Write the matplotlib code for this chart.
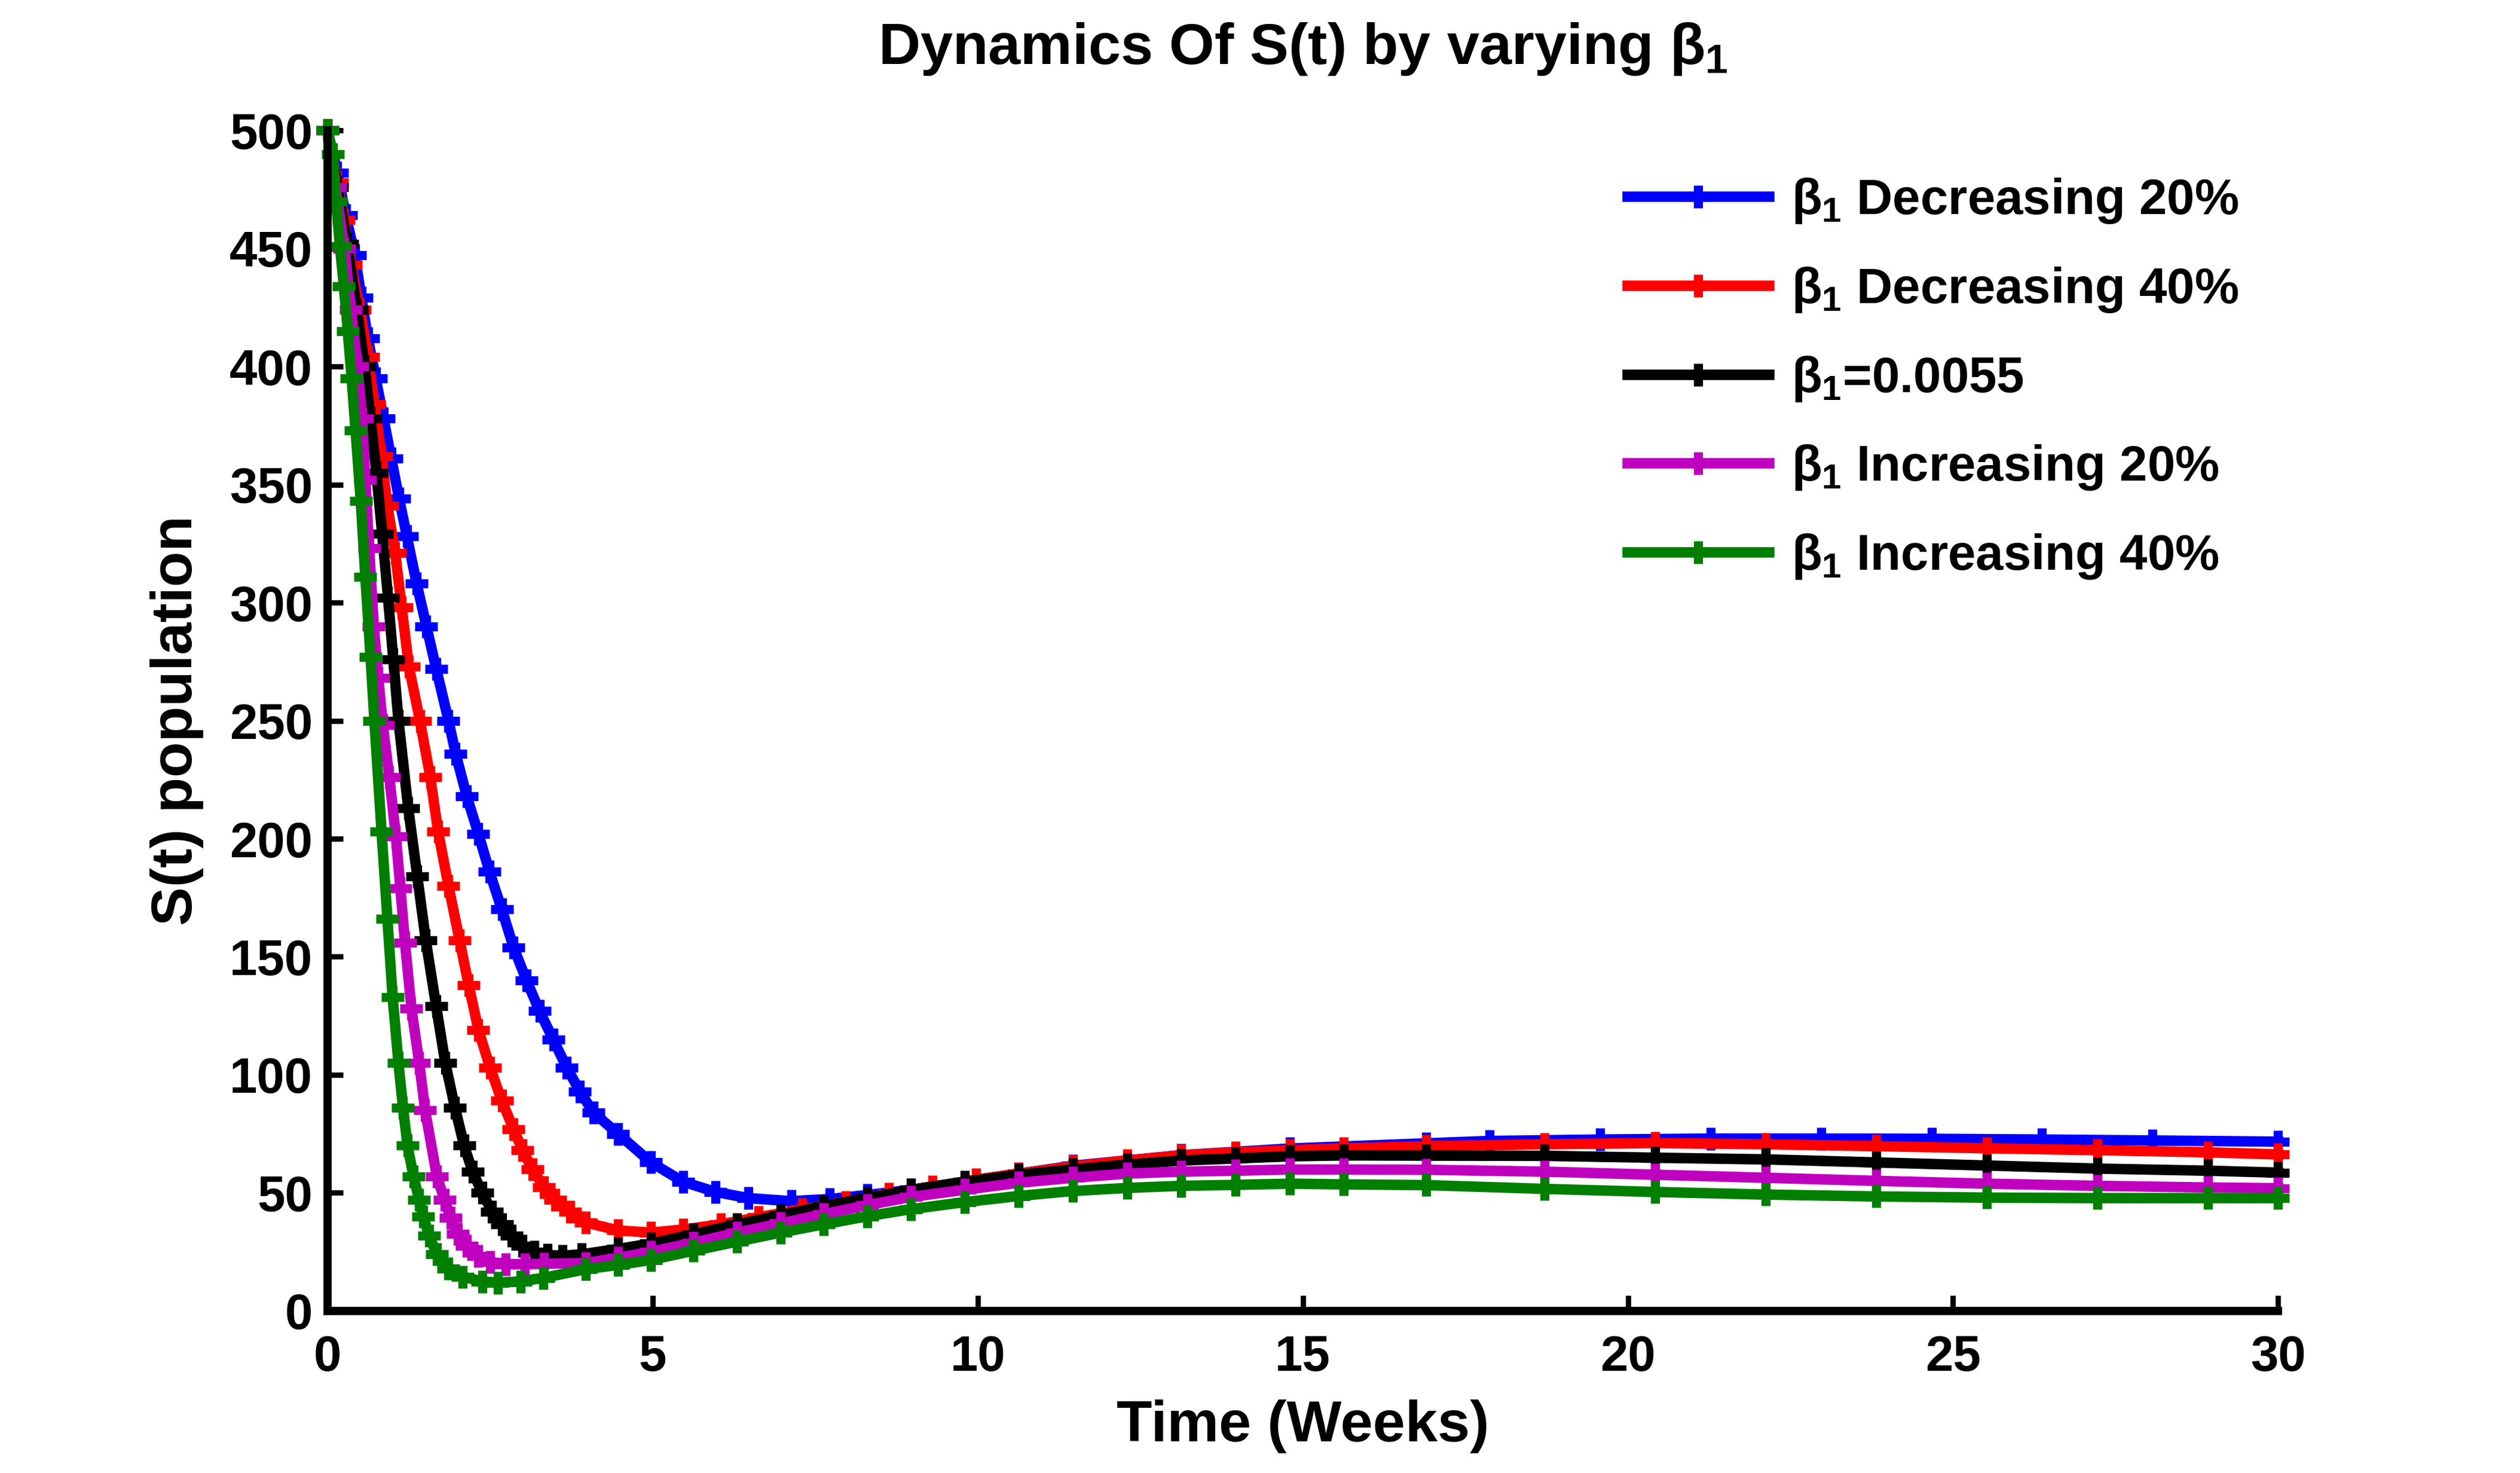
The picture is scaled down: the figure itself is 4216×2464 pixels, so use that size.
import matplotlib
matplotlib.use('Agg')
import matplotlib.pyplot as plt

plt.rcParams['font.family'] = 'Liberation Sans'
plt.rcParams['font.weight'] = 'bold'
plt.rcParams['mathtext.fontset'] = 'custom'
plt.rcParams['mathtext.rm'] = 'Liberation Sans'
plt.rcParams['mathtext.it'] = 'Liberation Sans'
plt.rcParams['mathtext.bf'] = 'Liberation Sans:bold'

# S(t), one (t, S) pair list per curve
t_dec20 = [0, 0.15, 0.28, 0.42, 0.52, 0.62, 0.74, 0.86, 0.98, 1.10,
           1.22, 1.37, 1.52, 1.67, 1.86, 1.97, 2.14, 2.32, 2.49, 2.68,
           2.86, 3.06, 3.26, 3.47, 3.68, 3.88, 4.09, 4.47, 4.97, 5.47,
           5.97, 6.47, 7.13, 7.72, 8.30, 8.97, 9.97, 11.46, 13.13, 14.80,
           16.90, 17.87, 19.57, 21.27, 22.97, 24.67, 26.37, 28.07, 30]
s_dec20 = [500, 482, 464, 447, 429, 412, 395, 378, 361, 344,
           328, 308, 290, 272, 250, 236, 218, 202, 186, 170,
           154, 140, 127, 115, 103, 93, 84, 75, 63, 54.7,
           50.4, 47.8, 46.5, 47.4, 49.1, 51.3, 55.5, 61.5, 66, 68.8,
           71, 72, 72.6, 73, 73, 72.9, 72.6, 72.2, 71.7]

t_dec40 = [0, 0.15, 0.25, 0.36, 0.50, 0.62, 0.72, 0.83, 0.92, 1.04,
           1.14, 1.25, 1.42, 1.58, 1.70, 1.86, 2.03, 2.17, 2.32, 2.50,
           2.68, 2.86, 3.00, 3.15, 3.33, 3.50, 3.73, 3.97, 4.47, 4.97,
           5.47, 6.05, 6.63, 7.30, 7.97, 8.63, 9.30, 9.97, 10.63, 11.46,
           12.30, 13.13, 13.96, 14.80, 15.63, 16.90, 18.72, 20.42, 22.12, 23.82,
           25.52, 27.22, 28.92, 30]
s_dec40 = [500, 478, 462, 443, 424, 404, 384, 362, 341, 321,
           298, 273, 250, 226, 203, 180, 157, 138, 119, 103,
           89, 77, 68, 60, 52.5, 47, 42, 37.5, 34.1, 33.2,
           34.5, 36.7, 39.7, 43.1, 46.1, 49.6, 52.6, 55.6, 58.2, 61.2,
           63.7, 65.9, 67.2, 68.1, 68.9, 69.8, 70.6, 71.1, 70.6, 69.8,
           68.9, 68.1, 67.2, 66.3]

t_base = [0, 0.15, 0.30, 0.45, 0.57, 0.66, 0.75, 0.84, 0.93, 1.01,
          1.09, 1.24, 1.38, 1.51, 1.67, 1.81, 1.96, 2.10, 2.23, 2.38,
          2.53, 2.68, 2.83, 3.00, 3.18, 3.38, 3.61, 3.91, 4.47, 4.97,
          5.63, 6.30, 6.97, 7.63, 8.30, 8.97, 9.80, 10.63, 11.46, 12.30,
          13.13, 13.96, 14.80, 15.63, 16.90, 18.72, 20.42, 22.12, 23.82, 25.52,
          27.22, 28.92, 30]
s_base = [500, 476, 452, 424, 400, 378, 355, 329, 302, 276,
          250, 213, 184, 157, 129, 105, 86, 70, 59, 50,
          42, 36.6, 32, 27.6, 25, 23.7, 23.4, 24, 26.3, 28.5,
          32.4, 36.7, 40.5, 44.4, 47.8, 51.3, 54.7, 57.7, 59.9, 62,
          63.7, 64.6, 65.5, 65.9, 65.8, 65.7, 64.9, 64.2, 62.9, 61.6,
          60.3, 59.4, 58.6]

t_inc20 = [0, 0.12, 0.26, 0.36, 0.46, 0.53, 0.58, 0.64, 0.71, 0.78,
           0.85, 0.95, 1.05, 1.12, 1.19, 1.29, 1.41, 1.50, 1.68, 1.80,
           1.89, 2.00, 2.14, 2.32, 2.50, 2.74, 3.03, 3.33, 3.97, 4.47,
           4.97, 5.63, 6.30, 6.97, 7.63, 8.30, 8.97, 9.80, 10.63, 11.46,
           12.30, 13.13, 13.96, 14.80, 15.63, 16.90, 18.72, 20.42, 22.12, 23.82,
           25.52, 27.22, 28.92, 30]
s_inc20 = [500, 476, 450, 424, 400, 378, 352, 323, 290, 268,
           248, 226, 201, 179, 156, 128, 105, 85, 57, 47,
           39.5, 32.7, 27.6, 23.4, 20.8, 19.8, 19.8, 20.0, 20.3, 22.5,
           25.1, 28.9, 33.2, 37.1, 41, 44.8, 48.3, 51.3, 54.3, 56.4,
           58.2, 59, 59.4, 59.9, 59.9, 59.8, 59, 57.7, 56.4, 55.1,
           53.9, 53, 52.3, 52]

t_inc40 = [0, 0.08, 0.13, 0.19, 0.25, 0.31, 0.37, 0.43, 0.51, 0.58,
           0.66, 0.72, 0.83, 0.92, 1.00, 1.09, 1.16, 1.23, 1.32, 1.41,
           1.47, 1.56, 1.68, 1.86, 2.08, 2.38, 2.62, 2.97, 3.32, 3.97,
           4.47, 4.97, 5.63, 6.30, 6.97, 7.63, 8.30, 8.97, 9.80, 10.63,
           11.46, 12.30, 13.13, 13.96, 14.80, 15.63, 16.90, 18.72, 20.42, 22.12,
           23.82, 25.52, 27.22, 28.92, 30]
s_inc40 = [500, 490, 470, 451, 434, 415, 395, 373, 343, 311,
           277, 250, 203, 166, 133, 105, 86, 70, 57, 47,
           40, 32, 24, 18, 14.5, 12.5, 12, 12.5, 14, 17.7,
           19.5, 21.6, 25.5, 29.4, 33.2, 36.7, 40.1, 43.1, 46.1, 48.7,
           50.8, 52.1, 53, 53.4, 53.9, 53.6, 53.3, 51.7, 50.4, 49.3,
           48.5, 48, 47.8, 47.8, 47.8]

labels = [r'$\beta_1$ Decreasing 20%', r'$\beta_1$ Decreasing 40%',
          r'$\beta_1$=0.0055', r'$\beta_1$ Increasing 20%',
          r'$\beta_1$ Increasing 40%']
colors = ['#0000ff', '#ff0000', '#000000', '#bf00bf', '#007f00']
x_ticks = [0, 5, 10, 15, 20, 25, 30]
y_ticks = [0, 50, 100, 150, 200, 250, 300, 350, 400, 450, 500]

series = [(t_dec20, s_dec20), (t_dec40, s_dec40), (t_base, s_base),
          (t_inc20, s_inc20), (t_inc40, s_inc40)]

fig = plt.figure(figsize=(21.08, 12.32), dpi=200)
ax = fig.add_axes([0.130, 0.110, 0.774, 0.8015])

for (t, s), c, lab in zip(series, colors, labels):
    ax.plot(t, s, color=c, lw=6.3, marker='+', ms=14, mew=5.5,
            label=lab, clip_on=False)

ax.set_xlim(0, 30)
ax.set_ylim(0, 500)
ax.set_xticks(x_ticks)
ax.set_yticks(y_ticks)
for side in ['top', 'right']:
    ax.spines[side].set_visible(False)
for side in ['left', 'bottom']:
    ax.spines[side].set_linewidth(5)
ax.tick_params(direction='in', length=9.4, width=3.2, labelsize=30)
ax.tick_params(axis='x', pad=14)
ax.tick_params(axis='y', pad=9)

ax.set_xlabel('Time (Weeks)', fontsize=35, fontweight='bold')
ax.set_ylabel('S(t) population', fontsize=35, fontweight='bold')
ax.xaxis.set_label_coords(0.5, -0.075)
ax.yaxis.set_label_coords(-0.0635, 0.5)
ax.set_title(r'Dynamics Of S(t) by varying $\beta_1$', fontsize=35,
             fontweight='bold', pad=40)

leg = fig.legend(loc='upper left', bbox_to_anchor=(0.636, 0.897),
                 frameon=False, fontsize=30, numpoints=1, borderpad=0,
                 handlelength=2.84, handletextpad=0.45, labelspacing=0.8)
for line in leg.get_lines():
    line.set_linewidth(6.3)

fig.savefig('out.png', dpi=200)
